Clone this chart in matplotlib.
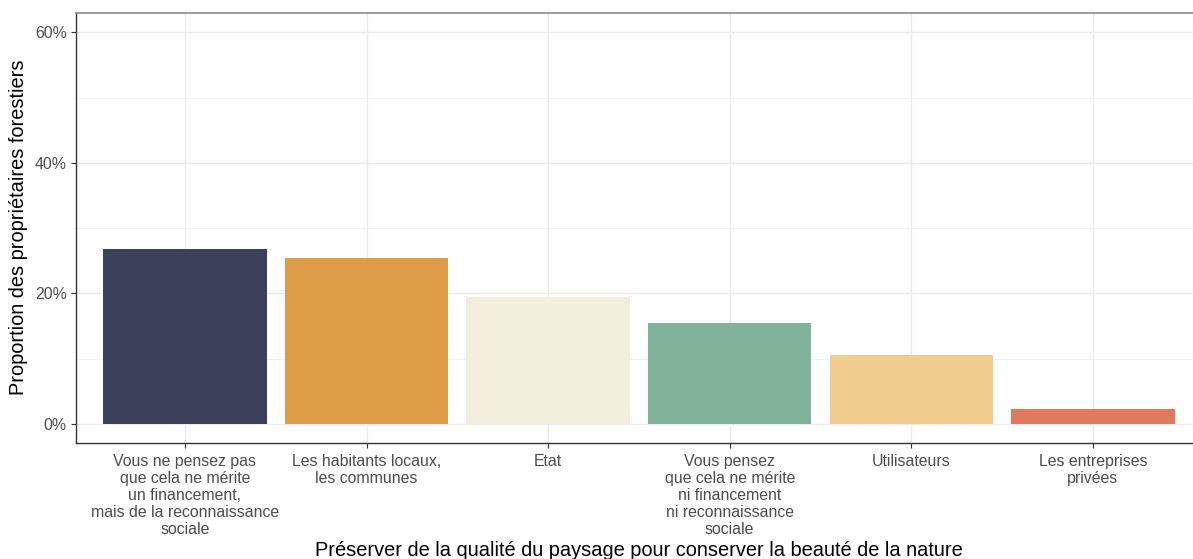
import matplotlib
matplotlib.use("Agg")
import matplotlib.pyplot as plt
from matplotlib.ticker import FuncFormatter, MultipleLocator

plt.rcParams['font.family'] = ['Liberation Sans', 'DejaVu Sans']

# données
categories = [
    "Vous ne pensez pas\nque cela ne mérite\nun financement,\nmais de la reconnaissance\nsociale",
    "Les habitants locaux,\nles communes",
    "Etat",
    "Vous pensez\nque cela ne mérite\nni financement\nni reconnaissance\nsociale",
    "Utilisateurs",
    "Les entreprises\nprivées",
]
proportions = [26.8, 25.4, 19.5, 15.5, 10.6, 2.25]
couleurs = ["#3D405B", "#DD9D48", "#F2EFDE", "#81B29A", "#F2CC8F", "#E07A5F"]

W, H = 1193, 559
fig = plt.figure(figsize=(W / 100, H / 100), dpi=100)
# le panneau dépasse un peu à droite (image rognée)
left, right, top, bottom = 76, 1201.8, 12.7, 442.7
ax = fig.add_axes([left / W, 1 - bottom / H, (right - left) / W, (bottom - top) / H])

x = list(range(1, len(categories) + 1))
ax.bar(x, proportions, width=0.9, color=couleurs, zorder=3)

ax.set_xlim(0.4, 6.6)
ax.set_ylim(-2.86, 63.0)
ax.yaxis.set_major_locator(MultipleLocator(20))
ax.yaxis.set_minor_locator(MultipleLocator(10))
ax.yaxis.set_major_formatter(FuncFormatter(lambda v, p: f"{v:.0f}%"))
ax.set_xticks(x)
ax.set_xticklabels(categories, fontsize=11.4, color="#4D4D4D", linespacing=1.17)
ax.tick_params(axis="y", labelsize=11.4, labelcolor="#4D4D4D", color="#333333", length=3.5, pad=3)
ax.tick_params(axis="x", color="#333333", length=3.5, pad=4.8)
ax.tick_params(axis="y", which="minor", length=0)

ax.grid(True, which="major", color="#EBEBEB", linewidth=1.0, zorder=0)
ax.grid(True, which="minor", axis="y", color="#F2F2F2", linewidth=0.7, zorder=0)
ax.set_axisbelow(True)

for s in ["left", "bottom"]:
    ax.spines[s].set_color("#333333")
    ax.spines[s].set_linewidth(1.0)
ax.spines["top"].set_color("#8C8C8C")
ax.spines["top"].set_linewidth(1.2)
ax.spines["right"].set_visible(False)

ax.set_ylabel("Proportion des propriétaires forestiers", fontsize=14.4, color="black", labelpad=5)
fig.text((left + right) / 2 / W, 1 - 551 / H,
         "Préserver de la qualité du paysage pour conserver la beauté de la nature",
         fontsize=14.4, color="black", ha="center", va="center")

fig.savefig("out.png", dpi=100)
